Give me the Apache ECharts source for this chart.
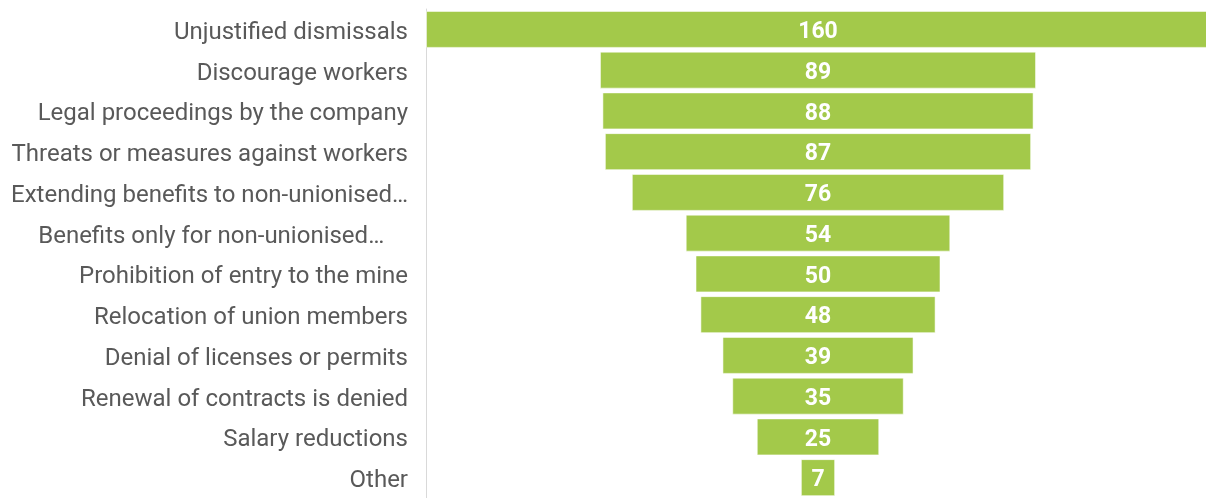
<!DOCTYPE html>
<html>
<head>
<meta charset="utf-8">
<script src="https://cdn.jsdelivr.net/npm/echarts@6/dist/echarts.min.js"></script>
<style>
  html, body { margin: 0; padding: 0; background: #fff; overflow: hidden; }
  /* canvas runs slightly past the right edge so the widest bar is cut off there */
  #chart { width: 1210px; height: 498px; }
</style>
</head>
<body>
<div id="chart"></div>
<script>
// Anti-union practices reported, ordered from most to least frequent
const categories = [
  'Unjustified dismissals',
  'Discourage workers',
  'Legal proceedings by the company',
  'Threats or measures against workers',
  'Extending benefits to non-unionised…',
  'Benefits only for non-unionised…\u00a0\u00a0\u00a0\u00a0',
  'Prohibition of entry to the mine',
  'Relocation of union members',
  'Denial of licenses or permits',
  'Renewal of contracts is denied',
  'Salary reductions',
  'Other'
];
const counts = [160, 89, 88, 87, 76, 54, 50, 48, 39, 35, 25, 7];

const maxCount = Math.max(...counts);
// transparent spacer so each bar sits centred on the axis range
const spacer = counts.map(v => (maxCount - v) / 2);

const chart = echarts.init(document.getElementById('chart'));
chart.setOption({
  animation: false,
  grid: { left: 426, right: 0, top: 9, height: 492, containLabel: false },
  xAxis: {
    type: 'value', min: 0, max: maxCount, show: false
  },
  yAxis: {
    type: 'category',
    data: categories,
    inverse: true,
    axisLine: { show: true, lineStyle: { color: '#d9d9d9', width: 1 } },
    axisTick: { show: false },
    axisLabel: {
      margin: 18,
      formatter: value => '{t|' + value + '}',
      rich: {
        t: {
          color: '#595959',
          fontFamily: 'Roboto',
          fontSize: 24,
          padding: [7, 0, 0, 0]
        }
      }
    }
  },
  series: [
    {
      type: 'bar',
      stack: 'funnel',
      data: spacer,
      barWidth: 37,
      itemStyle: { color: 'transparent' },
      silent: true
    },
    {
      type: 'bar',
      stack: 'funnel',
      data: counts,
      barWidth: 37,
      itemStyle: {
        color: '#a3c94a',
        borderColor: 'rgba(255,255,255,0.55)',
        borderWidth: 1
      },
      label: {
        show: true,
        position: 'inside',
        offset: [0, 3],
        color: '#fff',
        fontFamily: 'Roboto',
        fontWeight: 'bold',
        fontSize: 23
      }
    }
  ]
});
</script>
</body>
</html>
